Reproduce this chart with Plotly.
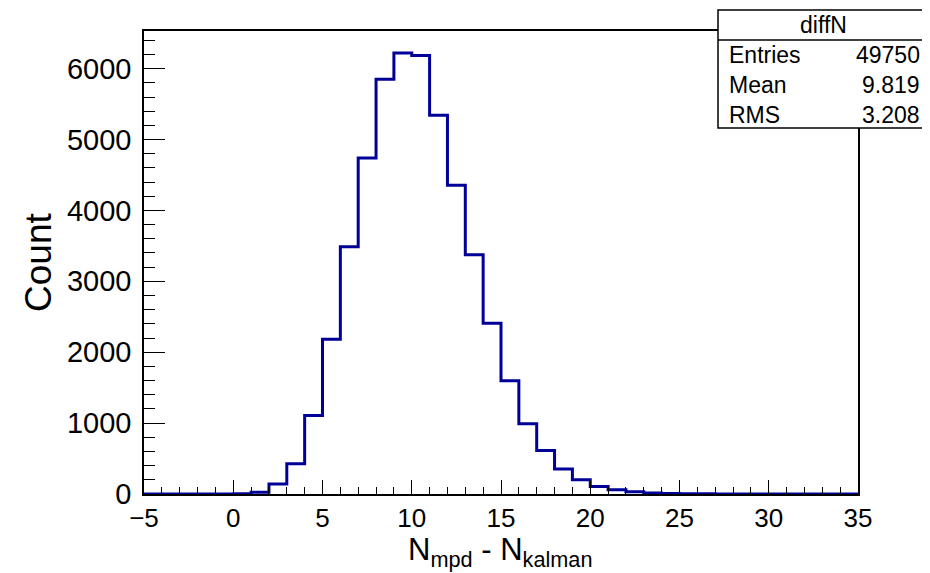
import numpy as np
import plotly.graph_objects as go

# histogram "diffN": 40 bins of width 1 from -5 to 35
bin_lo = -5
bin_hi = 35
counts = [0, 0, 0, 0, 0,
          5, 25, 141, 427, 1107, 2183, 3487, 4741, 5849, 6220,
          6187, 5342, 4356, 3375, 2408, 1596, 990, 614, 352, 201,
          107, 61, 32, 15, 8, 4, 2, 1,
          0, 0, 0, 0, 0, 0, 0]

stat_names = ["Entries", "Mean", "RMS"]
stat_values = ["49750", "9.819", "3.208"]

edges = np.arange(bin_lo, bin_hi + 1)
step_y = counts + [counts[-1]]

FONT = "Liberation Sans, Arial, sans-serif"
BLUE = "#000099"

fig = go.Figure()
fig.add_trace(go.Scatter(
    x=edges, y=step_y,
    mode="lines",
    line=dict(color=BLUE, width=3, shape="hv"),
    showlegend=False,
    hoverinfo="x+y",
))

ymax = max(counts) * 1.05

# page body has an 8px margin, so the figure is a bit smaller than the window
fig.update_layout(
    width=922, height=565,
    margin=dict(l=136, r=72, t=23, b=79),
    paper_bgcolor="white",
    plot_bgcolor="white",
    font=dict(family=FONT, color="black"),
    xaxis=dict(
        range=[bin_lo, bin_hi],
        tickmode="linear", tick0=-5, dtick=5,
        ticks="inside", ticklen=14, tickwidth=1, tickcolor="black",
        minor=dict(ticks="inside", ticklen=7, dtick=1, tickcolor="black", tickwidth=1),
        showline=True, linecolor="black", linewidth=1.5, mirror=True,
        showgrid=False, zeroline=False,
        tickfont=dict(size=26),
        ticklabelstandoff=0,
    ),
    yaxis=dict(
        range=[0, ymax],
        tickmode="linear", tick0=0, dtick=1000,
        ticks="inside", ticklen=21, tickwidth=1, tickcolor="black",
        minor=dict(ticks="inside", ticklen=11, dtick=200, tickcolor="black", tickwidth=1),
        showline=True, linecolor="black", linewidth=1.5, mirror=True,
        showgrid=False, zeroline=False,
        tickfont=dict(size=29),
        ticklabelstandoff=5,
    ),
)

# pixel (in the window) -> paper coordinates of the plot area
def px_x(p):
    return (p - 144) / 714

def px_y(p):
    return (494 - p) / 463

# axis titles
fig.add_annotation(
    text="N<sub>mpd</sub> - N<sub>kalman</sub>",
    xref="paper", yref="paper", x=px_x(500), y=px_y(552),
    xanchor="center", yanchor="middle",
    showarrow=False, font=dict(size=31),
)
fig.add_annotation(
    text="Count",
    xref="paper", yref="paper", x=px_x(38), y=px_y(263),
    xanchor="center", yanchor="middle", textangle=-90,
    showarrow=False, font=dict(size=37),
)

# stats box
fig.add_shape(type="rect", xref="paper", yref="paper",
              x0=px_x(718), x1=px_x(928), y0=px_y(128), y1=px_y(10),
              line=dict(color="black", width=1.5), fillcolor="white", layer="above")
fig.add_shape(type="line", xref="paper", yref="paper",
              x0=px_x(718), x1=px_x(928), y0=px_y(40), y1=px_y(40),
              line=dict(color="black", width=1.5), layer="above")
fig.add_annotation(text="diffN", xref="paper", yref="paper",
                   x=px_x(823), y=px_y(25), xanchor="center", yanchor="middle",
                   showarrow=False, font=dict(size=23))
for i, (name, val) in enumerate(zip(stat_names, stat_values)):
    yy = px_y(55 + 30 * i)
    fig.add_annotation(text=name, xref="paper", yref="paper",
                       x=px_x(727), y=yy, xanchor="left", yanchor="middle",
                       showarrow=False, font=dict(size=23))
    fig.add_annotation(text=val, xref="paper", yref="paper",
                       x=px_x(922), y=yy, xanchor="right", yanchor="middle",
                       showarrow=False, font=dict(size=23))

fig.write_html("out.html")
